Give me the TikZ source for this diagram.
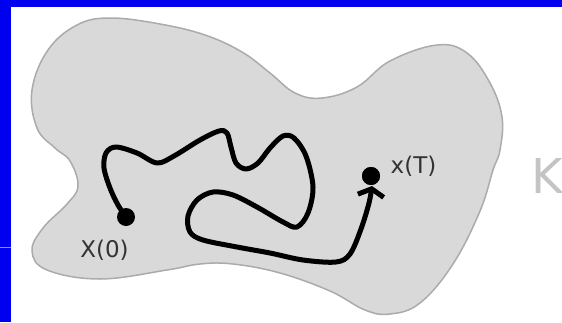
\documentclass[tikz,border=0pt]{standalone}
\usepackage{fontspec}
\newfontfamily\labfont{DejaVu Sans}
\usetikzlibrary{arrows.meta}
\definecolor{bgblue}{HTML}{0000F0}
\definecolor{blobfill}{HTML}{D9D9D9}
\definecolor{blobline}{HTML}{ABABAB}
\definecolor{labgray}{HTML}{333333}
\definecolor{kgray}{HTML}{C4C4C4}
\tikzset{
  blob/.style={fill=blobfill, draw=blobline, line width=1.5pt},
  dotnode/.style={circle, fill=black, inner sep=0pt, minimum size=18pt},
  traj/.style={line width=5pt, line cap=round, line join=round},
  lab/.style={font=\labfont\fontsize{23}{23}\selectfont, text=labgray, anchor=base, inner sep=0pt},
  bigk/.style={font=\labfont\fontsize{48}{48}\selectfont, text=kgray, anchor=base west, inner sep=0pt}
}
\begin{document}
\begin{tikzpicture}[x=1pt, y=-1pt]
\useasboundingbox (0,0) rectangle (562,322);
\fill[bgblue] (0,0) rectangle (562,322);
\fill[white] (11,7) rectangle (562,322);
\draw[blue!45!white, line width=1pt] (0,247) -- (11,247);
% blob
\draw[blob] plot[smooth cycle, tension=0.65] coordinates {
 (110,18) (160,24) (205,35) (242,52) (270,73) (295,93) (322,98) (357,87)
 (390,61) (437,45) (467,53) (490,83) (502,117) (500,150) (493,170)
 (480,211) (453,264) (420,303) (390,314) (365,310) (330,291) (280,273)
 (233,264) (200,264) (167,270) (100,279) (47,270) (32,251) (43,228)
 (67,204) (78,186) (70,161) (55,148) (37,128) (32,90) (48,50) (77,25)};
% dots
\node[dotnode] (x0) at (126,217) {};
\node[dotnode] (xT) at (371,176) {};
% trajectory
\draw[traj, -{Straight Barb[length=7pt, width=26pt]}] plot[smooth, tension=0.55] coordinates {
 (x0.center) (118,205) (110,188) (104,168) (106,153) (116,147) (137,153)
 (157,163) (174,156) (200,140) (219,131) (227,133) (231,147) (236,163)
 (246,169) (258,163) (270,148) (283,136) (294,138) (306,156) (313,187)
 (308,213) (297,227) (283,222) (257,207) (233,195) (213,192) (197,200)
 (188,216) (190,232) (203,240) (237,247) (270,253) (303,260) (336,262)
 (350,254) (361,229) (369,203) (372,186)};
\node[dotnode] at (xT) {};
% labels
\node[lab] (l0) at (104.5,257) {X(0)};
\node[lab] (lT) at (413.5,173) {x(T)};
\node[bigk] (K) at (531,193) {K};
\end{tikzpicture}
\end{document}
